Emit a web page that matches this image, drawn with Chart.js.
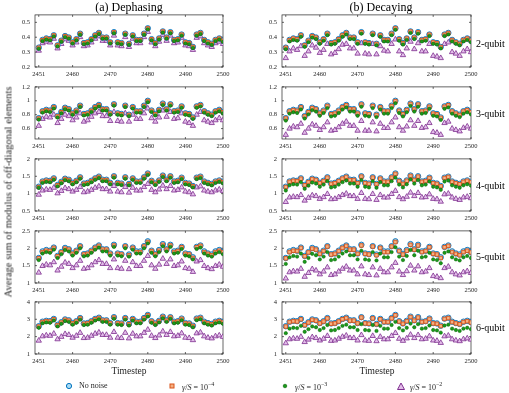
<!DOCTYPE html>
<html>
<head>
<meta charset="utf-8">
<script src="https://cdn.jsdelivr.net/npm/chart.js@4.4.0/dist/chart.umd.min.js"></script>
<style>
  body { margin: 0; background: #fff; }
  #wrap { position: relative; width: 509px; height: 393px; overflow: hidden; font-family: "Liberation Serif", "DejaVu Serif", serif; color: #000; }
  canvas { position: absolute; }
  .txt { position: absolute; white-space: nowrap; z-index: 2; }
  .title { font-size: 12px; top: 0px; transform: translateX(-50%); }
  .rowlab { font-size: 10px; left: 476px; transform: translateY(-50%); }
  .xlab { font-size: 9.5px; top: 366px; transform: translateX(-50%); color: #262626; }
  .ylab { font-size: 10.5px; left: 8px; top: 192px; transform: translate(-50%, -50%) rotate(-90deg); color: #262626; }
  .leg { font-size: 8px; top: 381px; color: #262626; }
  .leg svg { position: absolute; left: -14px; top: 1px; }
</style>
</head>
<body>
<div id="wrap">
  <div class="txt title" style="left:129px">(a) Dephasing</div>
  <div class="txt title" style="left:381px">(b) Decaying</div>
  <div class="txt ylab">Average sum of modulus of off-diagonal elements</div>
  <div class="txt xlab" style="left:129px">Timestep</div>
  <div class="txt xlab" style="left:377px">Timestep</div>
  <div class="txt rowlab" style="top:43px">2-qubit</div>
  <div class="txt rowlab" style="top:113px">3-qubit</div>
  <div class="txt rowlab" style="top:185px">4-qubit</div>
  <div class="txt rowlab" style="top:256px">5-qubit</div>
  <div class="txt rowlab" style="top:327px">6-qubit</div>
  <div class="txt leg" style="left:79px"><svg width="8" height="8"><circle cx="4" cy="4" r="2.6" fill="#a9dcf5" stroke="#0072BD" stroke-width="1"/></svg>No noise</div>
  <div class="txt leg" style="left:182px"><svg width="8" height="8"><rect x="2" y="2" width="4" height="4" fill="#f4b183" stroke="#D95319" stroke-width="1"/></svg><i>γ</i>/<i>S</i> = 10<sup style="font-size:6px">−4</sup></div>
  <div class="txt leg" style="left:295px"><svg width="8" height="8"><circle cx="4" cy="4" r="1.8" fill="#1a9a1a" stroke="#006000" stroke-width="0.6"/></svg><i>γ</i>/<i>S</i> = 10<sup style="font-size:6px">−3</sup></div>
  <div class="txt leg" style="left:410px"><svg width="10" height="9"><polygon points="5,1 8.5,7.5 1.5,7.5" fill="#e3bdea" stroke="#7E2F8E" stroke-width="1"/></svg><i>γ</i>/<i>S</i> = 10<sup style="font-size:6px">−2</sup></div>
</div>
<script>
const timesteps = [2451,2452,2453,2454,2455,2456,2457,2458,2459,2460,2461,2462,2463,2464,2465,2466,2467,2468,2469,2470,2471,2472,2473,2474,2475,2476,2477,2478,2479,2480,2481,2482,2483,2484,2485,2486,2487,2488,2489,2490,2491,2492,2493,2494,2495,2496,2497,2498,2499,2500];
const xTicks = [2451, 2460, 2470, 2480, 2490, 2500];

// 2-qubit
const noNoise2 = [0.330,0.382,0.392,0.387,0.413,0.346,0.377,0.408,0.398,0.366,0.387,0.424,0.361,0.366,0.387,0.413,0.429,0.398,0.398,0.366,0.434,0.366,0.361,0.424,0.356,0.413,0.382,0.382,0.424,0.460,0.387,0.361,0.392,0.439,0.398,0.434,0.382,0.387,0.418,0.366,0.361,0.335,0.418,0.429,0.382,0.366,0.356,0.382,0.392,0.377];
const gamma4_2 = [0.329,0.380,0.391,0.386,0.412,0.345,0.376,0.407,0.397,0.365,0.386,0.423,0.360,0.365,0.386,0.412,0.428,0.397,0.397,0.365,0.433,0.365,0.360,0.423,0.355,0.412,0.381,0.381,0.423,0.459,0.386,0.360,0.391,0.438,0.397,0.433,0.381,0.386,0.417,0.365,0.360,0.334,0.417,0.428,0.381,0.365,0.355,0.381,0.391,0.376];
const dephE3_2 = [0.323,0.375,0.385,0.380,0.406,0.339,0.370,0.401,0.391,0.359,0.380,0.417,0.354,0.359,0.380,0.406,0.422,0.391,0.391,0.359,0.427,0.359,0.354,0.417,0.349,0.406,0.375,0.375,0.417,0.453,0.380,0.354,0.385,0.432,0.391,0.427,0.375,0.380,0.411,0.359,0.354,0.328,0.411,0.422,0.375,0.359,0.349,0.375,0.385,0.370];
const dephE2_2 = [0.310,0.360,0.370,0.365,0.390,0.325,0.355,0.386,0.376,0.345,0.365,0.401,0.340,0.345,0.365,0.390,0.406,0.376,0.376,0.345,0.411,0.345,0.340,0.401,0.335,0.390,0.360,0.360,0.401,0.436,0.365,0.340,0.370,0.416,0.376,0.411,0.360,0.365,0.396,0.345,0.340,0.315,0.396,0.406,0.360,0.345,0.335,0.360,0.370,0.355];
const decE3_2 = [0.320,0.372,0.382,0.377,0.403,0.336,0.367,0.398,0.388,0.356,0.377,0.414,0.351,0.356,0.377,0.403,0.419,0.388,0.388,0.356,0.424,0.356,0.351,0.414,0.346,0.403,0.372,0.372,0.414,0.450,0.377,0.351,0.382,0.429,0.388,0.424,0.372,0.377,0.408,0.356,0.351,0.325,0.408,0.419,0.372,0.356,0.346,0.372,0.382,0.367];
const decE2_2 = [0.260,0.305,0.325,0.315,0.340,0.275,0.305,0.345,0.330,0.295,0.315,0.355,0.285,0.295,0.320,0.350,0.355,0.325,0.325,0.290,0.360,0.290,0.285,0.355,0.285,0.340,0.310,0.305,0.355,0.385,0.305,0.280,0.325,0.370,0.320,0.360,0.305,0.305,0.355,0.275,0.270,0.260,0.355,0.365,0.300,0.290,0.275,0.305,0.320,0.300];

// 3-qubit
const noNoise3 = [0.75,0.85,0.87,0.86,0.91,0.78,0.84,0.90,0.88,0.82,0.86,0.93,0.81,0.82,0.86,0.91,0.94,0.88,0.88,0.82,0.95,0.82,0.81,0.93,0.80,0.91,0.85,0.85,0.93,1.00,0.86,0.81,0.87,0.96,0.88,0.95,0.85,0.86,0.92,0.82,0.81,0.76,0.92,0.94,0.85,0.82,0.80,0.85,0.87,0.84];
const gamma4_3 = [0.745,0.845,0.865,0.855,0.905,0.775,0.835,0.895,0.875,0.815,0.855,0.925,0.805,0.815,0.855,0.905,0.935,0.875,0.875,0.815,0.945,0.815,0.805,0.925,0.795,0.905,0.845,0.845,0.925,0.995,0.855,0.805,0.865,0.955,0.875,0.945,0.845,0.855,0.915,0.815,0.805,0.755,0.915,0.935,0.845,0.815,0.795,0.845,0.865,0.835];
const dephE3_3 = [0.73,0.83,0.85,0.84,0.89,0.76,0.82,0.88,0.86,0.80,0.84,0.91,0.79,0.80,0.84,0.89,0.92,0.86,0.86,0.80,0.93,0.80,0.79,0.91,0.78,0.89,0.83,0.83,0.91,0.98,0.84,0.79,0.85,0.94,0.86,0.93,0.83,0.84,0.90,0.80,0.79,0.74,0.90,0.92,0.83,0.80,0.78,0.83,0.85,0.82];
const dephE2_3 = [0.64,0.74,0.77,0.76,0.80,0.68,0.74,0.80,0.78,0.72,0.76,0.82,0.70,0.72,0.77,0.82,0.84,0.78,0.78,0.71,0.84,0.71,0.70,0.82,0.70,0.80,0.74,0.74,0.82,0.89,0.75,0.70,0.76,0.86,0.77,0.84,0.74,0.75,0.82,0.70,0.68,0.64,0.80,0.84,0.72,0.70,0.68,0.72,0.75,0.72];
const decE3_3 = [0.715,0.815,0.835,0.825,0.875,0.745,0.805,0.865,0.845,0.785,0.825,0.895,0.775,0.785,0.825,0.875,0.905,0.845,0.845,0.785,0.915,0.785,0.775,0.895,0.765,0.875,0.815,0.815,0.895,0.965,0.825,0.775,0.835,0.925,0.845,0.915,0.815,0.825,0.885,0.785,0.775,0.725,0.885,0.905,0.815,0.785,0.765,0.815,0.835,0.805];
const decE2_3 = [0.51,0.60,0.63,0.62,0.67,0.54,0.60,0.66,0.64,0.58,0.62,0.69,0.57,0.58,0.62,0.67,0.70,0.64,0.64,0.57,0.71,0.57,0.57,0.69,0.56,0.67,0.61,0.61,0.69,0.76,0.62,0.57,0.63,0.72,0.64,0.71,0.61,0.62,0.68,0.55,0.54,0.51,0.68,0.70,0.60,0.58,0.56,0.61,0.63,0.60];

// 4-qubit
const noNoise4 = [1.20,1.35,1.38,1.37,1.44,1.25,1.34,1.43,1.40,1.31,1.37,1.47,1.29,1.31,1.37,1.44,1.49,1.40,1.40,1.31,1.50,1.31,1.29,1.47,1.28,1.44,1.35,1.35,1.47,1.58,1.37,1.29,1.38,1.52,1.40,1.50,1.35,1.37,1.46,1.31,1.29,1.22,1.46,1.49,1.35,1.31,1.28,1.35,1.38,1.34];
const gamma4_4 = [1.19,1.34,1.37,1.36,1.43,1.24,1.33,1.42,1.39,1.30,1.36,1.46,1.28,1.30,1.36,1.43,1.48,1.39,1.39,1.30,1.49,1.30,1.28,1.46,1.27,1.43,1.34,1.34,1.46,1.57,1.36,1.28,1.37,1.51,1.39,1.49,1.34,1.36,1.45,1.30,1.28,1.21,1.45,1.48,1.34,1.30,1.27,1.34,1.37,1.33];
const dephE3_4 = [1.17,1.31,1.34,1.33,1.40,1.21,1.30,1.39,1.36,1.27,1.33,1.43,1.25,1.27,1.33,1.40,1.45,1.36,1.36,1.27,1.46,1.27,1.25,1.43,1.24,1.40,1.31,1.31,1.43,1.54,1.33,1.25,1.34,1.48,1.36,1.46,1.31,1.33,1.42,1.27,1.25,1.18,1.42,1.45,1.31,1.27,1.24,1.31,1.34,1.30];
const dephE2_4 = [0.97,1.09,1.12,1.11,1.17,1.01,1.08,1.16,1.13,1.06,1.11,1.19,1.04,1.06,1.11,1.17,1.21,1.13,1.13,1.06,1.22,1.06,1.04,1.19,1.03,1.17,1.09,1.09,1.19,1.28,1.11,1.04,1.12,1.23,1.13,1.22,1.09,1.11,1.18,1.06,1.04,0.98,1.18,1.21,1.09,1.06,1.04,1.09,1.12,1.08];
const decE3_4 = [1.09,1.24,1.27,1.26,1.33,1.14,1.23,1.32,1.29,1.20,1.26,1.36,1.18,1.20,1.26,1.33,1.38,1.29,1.29,1.20,1.39,1.20,1.18,1.36,1.17,1.33,1.24,1.24,1.36,1.46,1.26,1.18,1.27,1.41,1.29,1.39,1.24,1.26,1.35,1.20,1.18,1.11,1.35,1.38,1.24,1.20,1.17,1.24,1.27,1.23];
const decE2_4 = [0.76,0.89,0.91,0.90,0.96,0.80,0.88,0.95,0.93,0.85,0.90,0.99,0.84,0.85,0.90,0.96,1.00,0.93,0.93,0.85,1.02,0.85,0.84,0.99,0.82,0.96,0.89,0.89,0.99,1.08,0.90,0.84,0.91,1.03,0.93,1.02,0.89,0.90,0.98,0.85,0.84,0.77,0.98,1.00,0.89,0.85,0.82,0.89,0.91,0.87];

// 5-qubit
const noNoise5 = [1.72,1.91,1.95,1.93,2.02,1.78,1.89,2.01,1.97,1.85,1.93,2.06,1.83,1.85,1.93,2.02,2.08,1.97,1.97,1.85,2.10,1.85,1.83,2.06,1.82,2.02,1.91,1.91,2.06,2.20,1.93,1.83,1.95,2.12,1.97,2.10,1.91,1.93,2.04,1.85,1.83,1.74,2.04,2.08,1.91,1.85,1.82,1.91,1.95,1.89];
const gamma4_5 = [1.71,1.89,1.93,1.92,2.01,1.77,1.88,1.99,1.96,1.84,1.92,2.05,1.82,1.84,1.92,2.01,2.07,1.96,1.96,1.84,2.08,1.84,1.82,2.05,1.80,2.01,1.89,1.89,2.05,2.18,1.92,1.82,1.93,2.10,1.96,2.08,1.89,1.92,2.03,1.84,1.82,1.72,2.03,2.07,1.89,1.84,1.80,1.89,1.93,1.88];
const dephE3_5 = [1.66,1.85,1.89,1.87,1.96,1.72,1.83,1.95,1.91,1.79,1.87,2.00,1.77,1.79,1.87,1.96,2.02,1.91,1.91,1.79,2.04,1.79,1.77,2.00,1.76,1.96,1.85,1.85,2.00,2.14,1.87,1.77,1.89,2.06,1.91,2.04,1.85,1.87,1.98,1.79,1.77,1.68,1.98,2.02,1.85,1.79,1.76,1.85,1.89,1.83];
const dephE2_5 = [1.30,1.49,1.53,1.51,1.60,1.36,1.47,1.59,1.55,1.43,1.51,1.64,1.41,1.43,1.51,1.60,1.66,1.55,1.55,1.43,1.68,1.43,1.41,1.64,1.40,1.60,1.49,1.49,1.64,1.78,1.51,1.41,1.53,1.70,1.55,1.68,1.49,1.51,1.62,1.43,1.41,1.32,1.62,1.66,1.49,1.43,1.40,1.49,1.53,1.47];
const decE3_5 = [1.55,1.74,1.78,1.76,1.85,1.61,1.72,1.84,1.80,1.68,1.76,1.89,1.66,1.68,1.76,1.85,1.91,1.80,1.80,1.68,1.93,1.68,1.66,1.89,1.65,1.85,1.74,1.74,1.89,2.03,1.76,1.66,1.78,1.95,1.80,1.93,1.74,1.76,1.87,1.68,1.66,1.57,1.87,1.91,1.74,1.68,1.65,1.74,1.78,1.72];
const decE2_5 = [1.13,1.31,1.34,1.33,1.41,1.18,1.29,1.40,1.36,1.25,1.33,1.45,1.23,1.25,1.33,1.41,1.47,1.36,1.36,1.25,1.48,1.25,1.23,1.45,1.22,1.41,1.31,1.31,1.45,1.58,1.33,1.23,1.34,1.50,1.36,1.48,1.31,1.33,1.43,1.20,1.18,1.14,1.43,1.47,1.31,1.25,1.22,1.31,1.34,1.29];

// 6-qubit
const noNoise6 = [2.60,2.86,2.91,2.89,3.02,2.68,2.83,2.99,2.94,2.78,2.89,3.07,2.76,2.78,2.89,3.02,3.09,2.94,2.94,2.78,3.12,2.78,2.76,3.07,2.73,3.02,2.86,2.86,3.07,3.25,2.89,2.76,2.91,3.15,2.94,3.12,2.86,2.89,3.04,2.78,2.76,2.63,3.04,3.09,2.86,2.78,2.73,2.86,2.91,2.83];
const gamma4_6 = [2.58,2.84,2.89,2.87,3.00,2.66,2.81,2.97,2.92,2.76,2.87,3.05,2.74,2.76,2.87,3.00,3.07,2.92,2.92,2.76,3.10,2.76,2.74,3.05,2.71,3.00,2.84,2.84,3.05,3.23,2.87,2.74,2.89,3.13,2.92,3.10,2.84,2.87,3.02,2.76,2.74,2.61,3.02,3.07,2.84,2.76,2.71,2.84,2.89,2.81];
const dephE3_6 = [2.51,2.77,2.82,2.80,2.93,2.59,2.74,2.90,2.85,2.69,2.80,2.98,2.67,2.69,2.80,2.93,3.00,2.85,2.85,2.69,3.03,2.69,2.67,2.98,2.64,2.93,2.77,2.77,2.98,3.16,2.80,2.67,2.82,3.06,2.85,3.03,2.77,2.80,2.95,2.69,2.67,2.54,2.95,3.00,2.77,2.69,2.64,2.77,2.82,2.74];
const dephE2_6 = [1.77,2.02,2.07,2.05,2.17,1.85,1.99,2.15,2.10,1.94,2.05,2.22,1.92,1.94,2.05,2.17,2.24,2.10,2.10,1.94,2.27,1.94,1.92,2.22,1.90,2.17,2.02,2.02,2.22,2.40,2.05,1.92,2.07,2.30,2.10,2.27,2.02,2.05,2.19,1.94,1.92,1.80,2.19,2.24,2.02,1.94,1.90,2.02,2.07,1.99];
const decE3_6 = [2.20,2.46,2.51,2.49,2.62,2.28,2.43,2.59,2.54,2.38,2.49,2.67,2.36,2.38,2.49,2.62,2.69,2.54,2.54,2.38,2.72,2.38,2.36,2.67,2.33,2.62,2.46,2.46,2.67,2.85,2.49,2.36,2.51,2.75,2.54,2.72,2.46,2.49,2.64,2.38,2.36,2.23,2.64,2.69,2.46,2.38,2.33,2.46,2.51,2.43];
const decE2_6 = [1.62,1.85,1.90,1.88,1.99,1.69,1.83,1.97,1.92,1.78,1.88,2.04,1.76,1.78,1.88,1.99,2.06,1.92,1.92,1.78,2.09,1.78,1.76,2.04,1.74,1.99,1.85,1.85,2.04,2.21,1.88,1.76,1.90,2.11,1.92,2.09,1.85,1.88,2.02,1.78,1.76,1.64,2.02,2.06,1.85,1.78,1.74,1.85,1.90,1.83];

// y axis limits and ticks per row
const yLimits = [[0.2, 0.55], [0.45, 1.2], [0.5, 2], [1, 2.5], [1, 4]];
const yTickVals = [[0.2, 0.3, 0.4, 0.5], [0.6, 0.8, 1, 1.2], [0.5, 1, 1.5, 2], [1, 1.5, 2, 2.5], [1, 2, 3, 4]];

const dephasing = [
  [noNoise2, gamma4_2, dephE3_2, dephE2_2],
  [noNoise3, gamma4_3, dephE3_3, dephE2_3],
  [noNoise4, gamma4_4, dephE3_4, dephE2_4],
  [noNoise5, gamma4_5, dephE3_5, dephE2_5],
  [noNoise6, gamma4_6, dephE3_6, dephE2_6]
];
const decaying = [
  [noNoise2, gamma4_2, decE3_2, decE2_2],
  [noNoise3, gamma4_3, decE3_3, decE2_3],
  [noNoise4, gamma4_4, decE3_4, decE2_4],
  [noNoise5, gamma4_5, decE3_5, decE2_5],
  [noNoise6, gamma4_6, decE3_6, decE2_6]
];

// marker styles: no noise, 1e-4, 1e-3, 1e-2
const styles = [
  { pointStyle: "circle", radius: 2.7, bg: "#a9dcf5", border: "#0072BD", bw: 0.9, order: 2 },
  { pointStyle: "rect", radius: 2.5, bg: "#f4b183", border: "#D95319", bw: 0.9, order: 1 },
  { pointStyle: "circle", radius: 1.7, bg: "#1a9a1a", border: "#006000", bw: 0.5, order: 0 },
  { pointStyle: "triangle", radius: 3.1, bg: "#e3bdea", border: "#7E2F8E", bw: 0.8, order: 3 }
];

const plotLeft = [35, 282];
const plotWidth = [188, 189];
const rowTop = [15, 87, 159, 231, 302];
const plotHeight = 52;
const yAxisW = 26, xAxisH = 14, padTop = 4, padRight = 12;

const boxPlugin = {
  id: "box",
  beforeDatasetsDraw(chart) {
    const { ctx, chartArea: a, scales } = chart;
    ctx.save();
    ctx.strokeStyle = "#262626";
    ctx.lineWidth = 0.7;
    ctx.strokeRect(a.left, a.top, a.right - a.left, a.bottom - a.top);
    ctx.beginPath();
    scales.x.ticks.forEach(t => {
      const px = scales.x.getPixelForValue(t.value);
      ctx.moveTo(px, a.bottom); ctx.lineTo(px, a.bottom - 2);
      ctx.moveTo(px, a.top); ctx.lineTo(px, a.top + 2);
    });
    scales.y.ticks.forEach(t => {
      const py = scales.y.getPixelForValue(t.value);
      ctx.moveTo(a.left, py); ctx.lineTo(a.left + 2, py);
      ctx.moveTo(a.right, py); ctx.lineTo(a.right - 2, py);
    });
    ctx.stroke();
    ctx.restore();
  }
};

const wrap = document.getElementById("wrap");
const tickFont = { family: "Liberation Serif", size: 6.5 };

function buildChart(col, row, series, w, h) {
  const canvas = document.createElement("canvas");
  canvas.width = w; canvas.height = h;
  canvas.style.width = w + "px"; canvas.style.height = h + "px";
  wrap.appendChild(canvas);

  const datasets = series.map((vals, k) => ({
    data: vals.map((v, i) => ({ x: timesteps[i], y: v })),
    showLine: false,
    pointStyle: styles[k].pointStyle,
    pointRadius: styles[k].radius,
    pointBackgroundColor: styles[k].bg,
    pointBorderColor: styles[k].border,
    pointBorderWidth: styles[k].bw,
    order: styles[k].order
  }));

  const chart = new Chart(canvas, {
    type: "scatter",
    data: { datasets },
    options: {
      responsive: false,
      maintainAspectRatio: false,
      animation: false,
      devicePixelRatio: 1,
      layout: { padding: { top: padTop, right: padRight, left: 0, bottom: 0 } },
      plugins: { legend: { display: false }, tooltip: { enabled: false } },
      scales: {
        x: {
          type: "linear", min: 2450, max: 2500,
          grid: { display: false, drawTicks: false }, border: { display: false },
          afterBuildTicks: s => { s.ticks = xTicks.map(v => ({ value: v })); },
          afterFit: s => { s.height = xAxisH; },
          ticks: { font: tickFont, color: "#262626", padding: 3, maxRotation: 0, autoSkip: false, callback: v => String(v) }
        },
        y: {
          type: "linear", min: yLimits[row][0], max: yLimits[row][1],
          grid: { display: false, drawTicks: false }, border: { display: false },
          afterBuildTicks: s => { s.ticks = yTickVals[row].map(v => ({ value: v })); },
          afterFit: s => { s.width = yAxisW; },
          ticks: { font: tickFont, color: "#262626", padding: 5, autoSkip: false, callback: v => String(+v.toFixed(2)) }
        }
      }
    },
    plugins: [boxPlugin]
  });
  return { canvas, chart };
}

function makePanel(col, row, series) {
  let w = yAxisW + plotWidth[col] + padRight;
  let h = padTop + plotHeight + xAxisH;
  let p = buildChart(col, row, series, w, h);
  let a = p.chart.chartArea;
  const extraH = Math.round(plotHeight - (a.bottom - a.top));
  const extraW = Math.round(plotWidth[col] - (a.right - a.left));
  if (extraH !== 0 || extraW !== 0) {
    p.chart.destroy();
    p.canvas.remove();
    p = buildChart(col, row, series, w + extraW, h + extraH);
    a = p.chart.chartArea;
  }
  // line the plot box up with the reference layout
  p.canvas.style.left = (plotLeft[col] - a.left) + "px";
  p.canvas.style.top = (rowTop[row] - a.top) + "px";
}

for (let r = 0; r < 5; r++) {
  makePanel(0, r, dephasing[r]);
  makePanel(1, r, decaying[r]);
}
</script>
</body>
</html>
